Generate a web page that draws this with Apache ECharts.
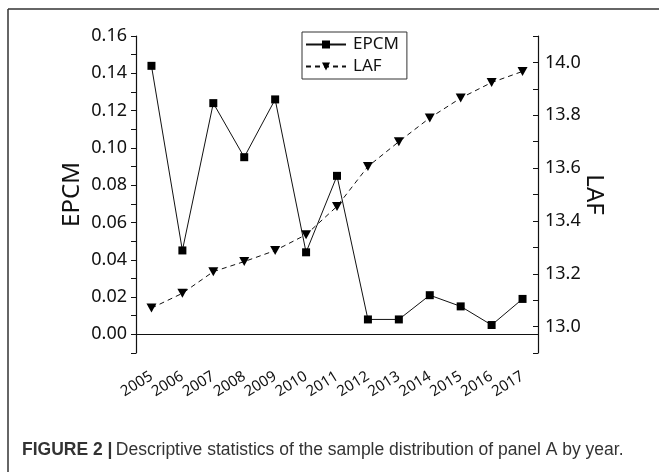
<!DOCTYPE html>
<html>
<head>
<meta charset="utf-8">
<script src="https://cdn.jsdelivr.net/npm/echarts@6/dist/echarts.min.js"></script>
<style>
  html, body { margin: 0; padding: 0; background: #fff; }
  #chart { width: 659px; height: 472px; }
</style>
</head>
<body>
<div id="chart"></div>
<script>
  // data
  const years = ['2005', '2006', '2007', '2008', '2009', '2010', '2011', '2012', '2013', '2014', '2015', '2016', '2017']
  const epcm = [0.144, 0.045, 0.124, 0.095, 0.126, 0.044, 0.085, 0.008, 0.008, 0.021, 0.015, 0.005, 0.019]
  const laf = [13.07, 13.126, 13.208, 13.246, 13.288, 13.348, 13.455, 13.606, 13.70, 13.79, 13.865, 13.924, 13.966]

  const chartFont = "'Noto Sans', sans-serif"
  const capFont = "'Liberation Sans', Arial, sans-serif"

  let chart = echarts.init(document.getElementById('chart'), null, { renderer: 'canvas' })

  let option = {
    backgroundColor: '#fff',
    animation: false,
    textStyle: { fontFamily: chartFont, color: '#111' },
    grid: { left: 136, right: 121, top: 36, bottom: 119 },
    legend: {
      orient: 'vertical',
      left: 302,
      top: 32,
      padding: [4, 8, 4, 3],
      itemGap: 5,
      itemWidth: 40,
      itemHeight: 10,
      borderColor: '#333',
      borderWidth: 1,
      textStyle: { fontFamily: chartFont, fontSize: 17, color: '#111', padding: [0, 0, 0, 2] },
      data: ['EPCM', 'LAF']
    },
    xAxis: [
      {
        type: 'category',
        data: years,
        boundaryGap: true,
        axisLine: { lineStyle: { color: '#111', width: 1.2 } },
        axisTick: { alignWithLabel: true, length: 6, lineStyle: { color: '#111' } },
        axisLabel: { rotate: 32, margin: 22, fontSize: 15, color: '#111', interval: 0 }
      },
      {
        // boundary (minor) ticks
        type: 'category',
        data: years,
        position: 'bottom',
        boundaryGap: true,
        axisLine: { show: false },
        axisTick: { alignWithLabel: false, length: 3, lineStyle: { color: '#111' } },
        axisLabel: { show: false }
      }
    ],
    yAxis: [
      {
        type: 'value',
        name: 'EPCM',
        nameLocation: 'middle',
        nameMoveOverlap: false,
        nameGap: 52,
        nameTextStyle: { fontSize: 24, color: '#111' },
        min: -0.01,
        max: 0.16,
        interval: 0.01,
        splitLine: { show: false },
        axisLine: { show: true, lineStyle: { color: '#111', width: 1.2 } },
        axisTick: { show: true, length: 5, lineStyle: { color: '#111' } },
        axisLabel: {
          margin: 9,
          fontSize: 18,
          color: '#111',
          formatter: function (v) {
            return Math.round(v * 100) % 2 === 0 ? v.toFixed(2) : ''
          }
        }
      },
      {
        type: 'value',
        name: 'LAF',
        nameLocation: 'middle',
        nameMoveOverlap: false,
        nameRotate: -90,
        nameGap: 44,
        nameTextStyle: { fontSize: 24, color: '#111' },
        position: 'right',
        min: 12.9,
        max: 14.1,
        interval: 0.1,
        splitLine: { show: false },
        axisLine: { show: true, lineStyle: { color: '#111', width: 1.2 } },
        axisTick: { show: true, inside: true, length: 5, lineStyle: { color: '#111' } },
        axisLabel: {
          margin: 7,
          fontSize: 18,
          color: '#111',
          formatter: function (v) {
            return Math.round(v * 10) % 2 === 0 ? v.toFixed(1) : ''
          }
        }
      }
    ],
    series: [
      {
        name: 'EPCM',
        type: 'line',
        data: epcm,
        yAxisIndex: 0,
        symbol: 'rect',
        symbolSize: 8,
        itemStyle: { color: '#000' },
        lineStyle: { color: '#111', width: 1 },
        z: 3
      },
      {
        name: 'LAF',
        type: 'line',
        data: laf,
        yAxisIndex: 1,
        symbol: 'path://M0,0L10,0L5,9Z',
        symbolSize: [10, 9],
        itemStyle: { color: '#000' },
        lineStyle: { color: '#111', width: 1, type: [5, 4] },
        z: 2
      }
    ],
    graphic: [
      { type: 'line', shape: { x1: 8, y1: 9, x2: 659, y2: 9 }, style: { stroke: '#333', lineWidth: 1.5 } },
      { type: 'line', shape: { x1: 8, y1: 9, x2: 8, y2: 472 }, style: { stroke: '#333', lineWidth: 1.5 } },
      {
        type: 'text',
        left: 22,
        top: 441,
        style: {
          text: '{b|FIGURE 2 |} {r|Descriptive statistics of the sample distribution of panel A by year.}',
          rich: {
            b: { fontFamily: capFont, fontWeight: 'bold', fontSize: 17.5, fill: '#333' },
            r: { fontFamily: capFont, fontSize: 17.5, fill: '#333' }
          }
        }
      }
    ]
  }

  chart.setOption(option)
</script>
</body>
</html>
